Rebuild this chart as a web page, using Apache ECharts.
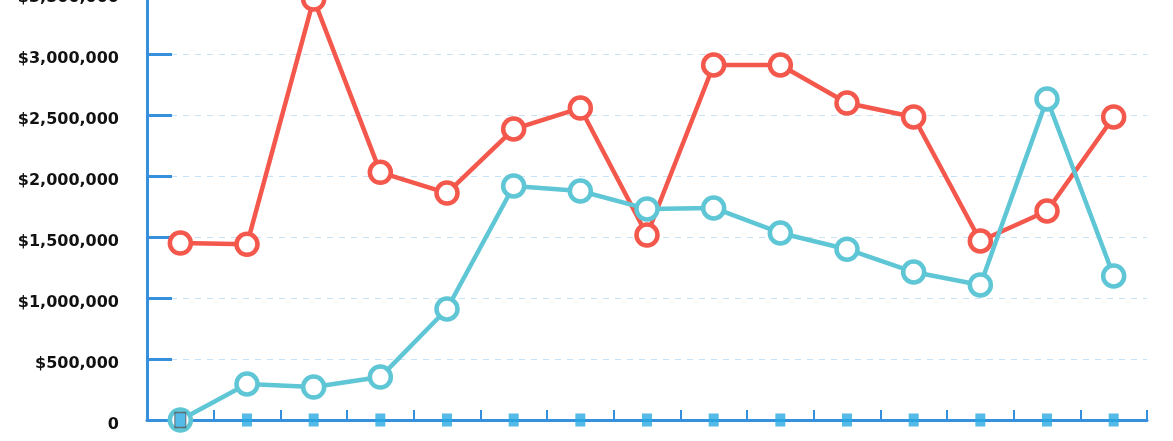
<!DOCTYPE html>
<html>
<head>
<meta charset="utf-8">
<script src="https://cdn.jsdelivr.net/npm/echarts@6/dist/echarts.min.js"></script>
<style>
html,body{margin:0;padding:0;background:#fff;}
#chart{width:1173px;height:441px;}
</style>
</head>
<body>
<div id="chart"></div>
<script>
const categories = ['1','2','3','4','5','6','7','8','9','10','11','12','13','14','15'];
const redSeries = [1450000, 1440000, 3450000, 2030000, 1860000, 2385000, 2557000, 1516000, 2910000, 2910000, 2598000, 2484000, 1467000, 1713000, 2484000];
const cyanSeries = [0, 295000, 270000, 352000, 910000, 1918000, 1877000, 1730000, 1738000, 1533000, 1400000, 1213000, 1107000, 2631000, 1180000];
const baseMarkers = [0, 0, 0, 0, 0, 0, 0, 0, 0, 0, 0, 0, 0, 0, 0];
const yTicks = { min: 0, max: 3500000, interval: 500000 };

const chart = echarts.init(document.getElementById('chart'), null, {renderer: 'canvas'});
const axisBlue = '#3690dd';
chart.setOption({
  animation: false,
  grid: { left: 147, right: 26, top: -7, bottom: 21, containLabel: false, outerBoundsMode: 'none' },
  xAxis: {
    type: 'category',
    data: categories,
    boundaryGap: true,
    axisLine: { show: true, lineStyle: { color: axisBlue, width: 3 } },
    axisTick: { show: true, inside: true, length: 10, lineStyle: { color: axisBlue, width: 2 } },
    axisLabel: { show: false },
    splitLine: { show: false }
  },
  yAxis: {
    type: 'value',
    min: yTicks.min, max: yTicks.max, interval: yTicks.interval,
    axisLine: { show: true, lineStyle: { color: axisBlue, width: 3 } },
    axisTick: { show: true, inside: true, length: 25, lineStyle: { color: axisBlue, width: 3 } },
    axisLabel: {
      margin: 28,
      color: '#111',
      fontFamily: 'DejaVu Sans',
      fontWeight: 'bold',
      fontSize: 16,
      verticalAlign: 'top',
      lineHeight: 9,
      showMaxLabel: true,
      hideOverlap: false,
      formatter: v => v === 0 ? '0' : '$' + v.toLocaleString('en-US')
    },
    splitLine: { show: true, lineStyle: { color: '#c6e2f6', width: 1, type: [6, 6] } }
  },
  series: [
    {
      type: 'line', data: redSeries,
      symbol: 'circle', symbolSize: 21,
      lineStyle: { color: '#f4574b', width: 4.5 },
      itemStyle: { color: '#fff', borderColor: '#f4574b', borderWidth: 4.5 },
      z: 3
    },
    {
      type: 'line', data: cyanSeries,
      symbol: 'circle', symbolSize: 21,
      lineStyle: { color: '#5fc6d5', width: 4.5 },
      itemStyle: { color: '#fff', borderColor: '#5fc6d5', borderWidth: 4.5 },
      z: 4
    },
    {
      type: 'scatter',
      data: baseMarkers.map((v, i) => i === 0
        ? { value: v, symbolSize: [11, 15], itemStyle: { color: '#29a9e1', borderColor: '#555', borderWidth: 1.2 } }
        : v),
      symbol: 'rect', symbolSize: [10, 13],
      itemStyle: { color: '#29a9e1' },
      clip: false,
      z: 5
    }
  ]
});
</script>
</body>
</html>
